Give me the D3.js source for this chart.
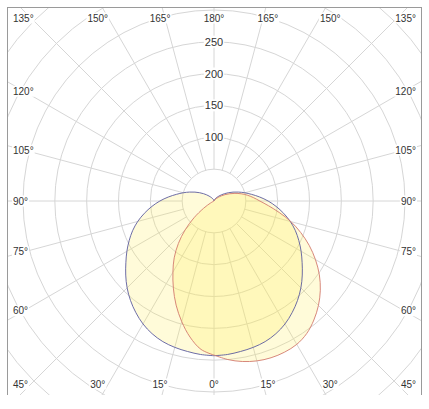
<!DOCTYPE html>
<html><head><meta charset="utf-8">
<script src="https://cdn.jsdelivr.net/npm/d3@7"></script>
<style>html,body{margin:0;padding:0;background:#fff;} svg{display:block;}</style>
</head><body>
<svg id="chart" width="429" height="409"></svg>
<script>
// ---- data ----
const gammaAngles = [0,5,10,15,20,25,30,35,40,45,50,55,60,65,70,75,80,85,90,95,100,105,110,115,120,125,130,135,140,145,150,155,160,165,170,175,180];
// C0-C180 plane (symmetric, blue outline), cd
const intensityC0C180 = [243,242,240,238,235,230,223,214,204,193,181,169,158,147,136,124,111,98,85,72,60,50,41,33,26,20,15,11,8,6,4,3,2,1,1,0,0];
// C90 half-plane (right side, red outline), cd
const intensityC90 = [242,250,256,260,262,262,260,254,244,232,218,202,184,165,145,125,104,86,72,62,53,44,35,27,20,14,9,6,4,2,1,0,0,0,0,0,0];
// C270 half-plane (left side, red outline), cd
const intensityC270 = [242,234,217,196,174,151,129,109,87,64,41,20,6,0,0,0,0,0,0,0,0,0,0,0,0,0,0,0,0,0,0,0,0,0,0,0,0];
const ringValues = [50,100,150,200,250,300,350,400];
const ringLabelValues = [100,150,200,250];
const rayAngles = [0,15,30,45,60,75,90,105,120,135,150,165,180];

// ---- layout ----
const cx = 214, cy = 201;
const frame = {x0: 7, y0: 7, x1: 421, y1: 395};
const svg = d3.select("#chart");
const r = d3.scaleLinear().domain([0, 300]).range([0, 191]);
const deg = Math.PI / 180;
const font = "'Liberation Sans', Arial, sans-serif";

svg.append("defs").append("clipPath").attr("id", "clip")
  .append("rect").attr("x", frame.x0).attr("y", frame.y0)
  .attr("width", frame.x1 - frame.x0).attr("height", frame.y1 - frame.y0);

const plot = svg.append("g").attr("clip-path", "url(#clip)");
const grid = plot.append("g").attr("transform", `translate(${cx},${cy})`);

// rings
grid.selectAll("circle.ring").data(ringValues).join("circle")
  .attr("class", "ring").attr("r", d => r(d))
  .attr("fill", "none").attr("stroke", "#d6d6d6").attr("stroke-width", 1);

// rays (start at the first ring)
const rays = [];
rayAngles.forEach(g => {
  const sides = (g === 0 || g === 180) ? [1] : [-1, 1];
  sides.forEach(s => rays.push({g, s}));
});
grid.selectAll("line.ray").data(rays).join("line")
  .attr("class", "ray")
  .attr("x1", d => d.s * r(50) * Math.sin(d.g * deg))
  .attr("y1", d => r(50) * Math.cos(d.g * deg))
  .attr("x2", d => d.s * r(700) * Math.sin(d.g * deg))
  .attr("y2", d => r(700) * Math.cos(d.g * deg))
  .attr("stroke", "#d6d6d6").attr("stroke-width", 1);

// curves: d3 radial angle a: right side a = PI - gamma, left side a = PI + gamma
function closedCurve(rightVals, leftVals) {
  const pts = [];
  gammaAngles.forEach((g, i) => pts.push([Math.PI - g * deg, r(rightVals[i])]));
  for (let i = gammaAngles.length - 1; i >= 0; i--) pts.push([Math.PI + gammaAngles[i] * deg, r(leftVals[i])]);
  return pts;
}
const radial = d3.lineRadial().angle(d => d[0]).radius(d => d[1]).curve(d3.curveCatmullRomClosed.alpha(0.5));

const curves = grid.append("g");
const shapes = [
  {pts: closedCurve(intensityC0C180, intensityC0C180), stroke: "#5c5c9e"},
  {pts: closedCurve(intensityC90, intensityC270), stroke: "#d27a6e"}
];
curves.selectAll("path.fill").data(shapes).join("path")
  .attr("class", "fill").attr("d", d => radial(d.pts))
  .attr("fill", "rgb(255,236,80)").attr("fill-opacity", 0.22).attr("stroke", "none");
curves.selectAll("path.line").data(shapes).join("path")
  .attr("class", "line").attr("d", d => radial(d.pts))
  .attr("fill", "none").attr("stroke", d => d.stroke).attr("stroke-width", 0.9);

// labels with white background
const labels = svg.append("g");
function addLabel(x, y, text, size, anchor) {
  const g = labels.append("g");
  const t = g.append("text").attr("x", x).attr("y", y).attr("dy", "0.35em")
    .attr("text-anchor", anchor).attr("font-family", font).attr("font-size", size)
    .attr("fill", "#333").text(text);
  const bb = t.node().getBBox();
  g.insert("rect", "text").attr("x", bb.x - 1).attr("y", bb.y).attr("width", bb.width + 2)
    .attr("height", bb.height).attr("fill", "#fff");
}

// angle labels
rays.forEach(({g, s}) => {
  const a = g * deg;
  const txt = g + "°";
  if (g === 0 || g === 180) {
    addLabel(cx, cy + (g === 0 ? 183 : -183), txt, 10, "middle");
  } else if (g === 15 || g === 30 || g === 150 || g === 165) {
    const down = g < 90 ? 1 : -1;
    const g2 = g < 90 ? a : Math.PI - a;
    addLabel(cx + s * 1.1 * 183 * Math.tan(g2), cy + down * 183, txt, 10, "middle");
  } else {
    let y;
    if (g === 45) y = cy + 183;
    else if (g === 135) y = cy - 183;
    else y = cy + 0.98 * 194 / Math.tan(a);
    if (s < 0) addLabel(cx - 201, y, txt, 10, "start");
    else addLabel(cx + 202, y, txt, 10, "end");
  }
});

// radial value labels along the upward axis
ringLabelValues.forEach(v => addLabel(cx, cy - r(v), String(v), 11, "middle"));

// frame (top, left, right)
const fr = svg.append("g").attr("stroke", "#9a9a9a").attr("stroke-width", 1).attr("shape-rendering", "crispEdges");
fr.append("line").attr("x1", frame.x0).attr("y1", frame.y0 + 0.5).attr("x2", frame.x1).attr("y2", frame.y0 + 0.5);
fr.append("line").attr("x1", frame.x0 + 0.5).attr("y1", frame.y0).attr("x2", frame.x0 + 0.5).attr("y2", frame.y1);
fr.append("line").attr("x1", frame.x1 + 0.5).attr("y1", frame.y0).attr("x2", frame.x1 + 0.5).attr("y2", frame.y1);
</script>
</body></html>
